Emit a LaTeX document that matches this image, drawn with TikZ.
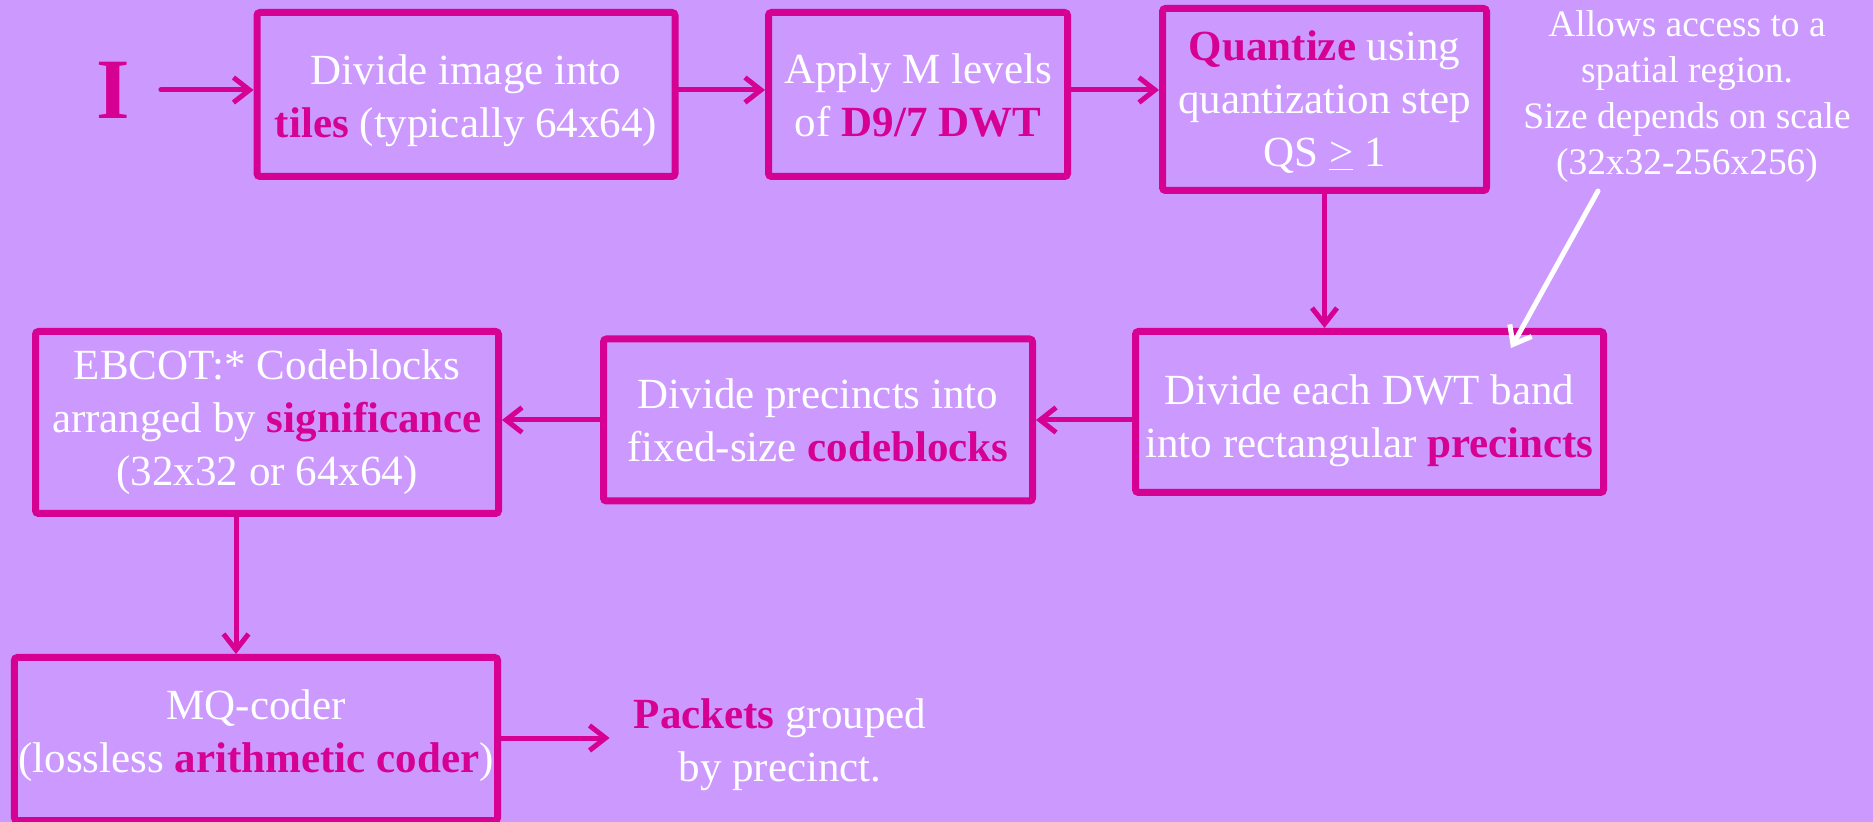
\documentclass[tikz,border=0pt]{standalone}
\usepackage{fontspec}
\setmainfont{Liberation Serif}
\usepackage{tikz}
\usetikzlibrary{arrows.meta,positioning}
\definecolor{lavender}{RGB}{204,153,255}
\definecolor{jpmag}{RGB}{214,0,147}
\newcommand{\hl}[1]{\textcolor{jpmag}{\textbf{#1}}}
\newcommand{\lift}[1]{\rule{0pt}{#1}}

\begin{document}
\begin{tikzpicture}[x=0.5pt,y=-0.5pt,->,>={Straight Barb[length=8pt,width=12.5pt]},line width=2.5pt,line cap=round,jpmag]
        \tikzstyle{stage} = [rectangle, draw=jpmag, line width=3.5pt, rounded corners=1.5pt, inner sep=2pt, text=white, align=center, font=\fontsize{21.5}{26.5}\selectfont]
        \tikzstyle{plain} = [text=white, align=center, font=\fontsize{21.5}{26.5}\selectfont]

        \useasboundingbox (0,0) rectangle (1873,822);
        \fill[lavender,-] (0,0) rectangle (1873,822);

        % Nodes
        \node[font=\fontsize{43}{43}\selectfont\bfseries] (I) at (113,90) {I};
        \node[stage, minimum width=209pt, minimum height=82pt] (tiles) at (466,94.5) {\lift{20.8pt}Divide image into\\ \hl{tiles} (typically 64x64)};
        \node[stage, minimum width=149.5pt, minimum height=82pt] (dwt) at (918,94.5) {\lift{16pt}Apply M levels\\ of \hl{D9/7 DWT}};
        \node[stage, minimum width=162pt, minimum height=91pt] (quant) at (1324.5,99.5) {\lift{17.8pt}\hl{Quantize} using\\ quantization step\\ QS \underline{>} 1};
        \node[plain, font=\fontsize{18.7}{23}\selectfont] (note) at (1687,97) {Allows access to a\\ spatial region.\\ Size depends on scale\\ (32x32-256x256)};
        \node[stage, minimum width=234pt, minimum height=80.5pt] (band) at (1369.5,412) {\lift{23.2pt}Divide each DWT band\\ into rectangular \hl{precincts}};
        \node[stage, minimum width=214.5pt, minimum height=81pt] (cblk) at (818,420) {Divide precincts into\\ fixed-size \hl{codeblocks}};
        \node[stage, minimum width=231.5pt, minimum height=91pt] (ebcot) at (267,422.5) {EBCOT:* Codeblocks\\ arranged by \hl{significance}\\ (32x32 or 64x64)};
        \node[stage, minimum width=239.5pt, minimum height=81.5pt] (mq) at (256,739) {MQ-coder\\ (lossless \hl{arithmetic coder})\rule[-7.5pt]{0pt}{0pt}};
        \node[plain] (pk) at (780,744.5) {\hl{Packets} grouped\\ by precinct.};
        \coordinate (noteend) at (1598,191);
        \coordinate (hit) at (1511,348);

        % Edges
        \path (I) edge[shorten <=11pt] (tiles.west |- I);
        \path (tiles.east |- I) edge (dwt.west |- I);
        \path (dwt.east |- I) edge (quant.west |- I);
        \path (quant.south) edge (quant.south |- band.north);
        \path (band.west |- cblk) edge (cblk);
        \path (cblk) edge (cblk -| ebcot.east);
        \path ([xshift=-15.5pt]ebcot.south) edge ([xshift=-15.5pt]ebcot.south |- mq.north);
        \path (mq.east |- 0,738) edge[shorten >=7.5pt] (pk.west |- 0,738);
        \path (noteend) edge[white] (hit);
\end{tikzpicture}
\end{document}
